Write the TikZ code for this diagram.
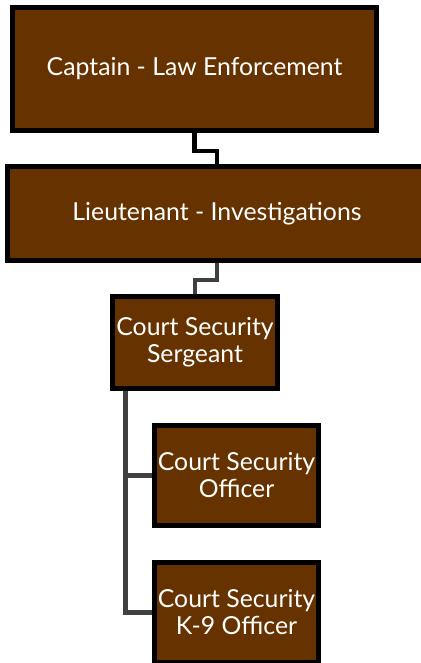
\documentclass[tikz,border=0pt]{standalone}
\usepackage{fontspec}
\setmainfont{Lato}
\usepackage{tikz}
\usepackage{xcolor}

\definecolor{rankbrown}{RGB}{102,51,0}
\definecolor{linkgray}{RGB}{64,64,64}

\begin{document}
\begin{tikzpicture}[x=1pt,y=-1pt,
    rank/.style={draw=black, fill=rankbrown, line width=5pt, text=white,
        align=center, inner sep=0pt, font=\fontsize{24.8}{27}\selectfont},
    link/.style={draw=linkgray, line width=4.5pt},
    toplink/.style={draw=black, line width=4.5pt}]
    \useasboundingbox (0,0) rectangle (420,663);

    \node[rank, minimum width=364pt, minimum height=123pt] (cap) at (194.5,69) {Captain - Law Enforcement};
    \node[rank, minimum width=419pt, minimum height=94pt] (lt) at (217,213.5) {Lieutenant - Investigations};
    \node[rank, minimum width=165pt, minimum height=92pt] (sgt) at (195,342.5) {Court Security\\Sergeant};
    \node[rank, minimum width=164pt, minimum height=100pt] (cso) at (236.5,475.5) {Court Security\\Officer};
    \node[rank, minimum width=164pt, minimum height=100pt] (k9) at (236.5,612.5) {Court Security\\K-9 Officer};

    \draw[toplink] (cap.south) -- ++(0,18) -| (lt.north);
    \draw[link] (lt.south) -- ++(0,17) -| (sgt.north);
    \draw[link] ([xshift=15.5pt]sgt.south west) |- (cso.west);
    \draw[link] ([xshift=15.5pt]sgt.south west) |- (k9.west);
\end{tikzpicture}
\end{document}
